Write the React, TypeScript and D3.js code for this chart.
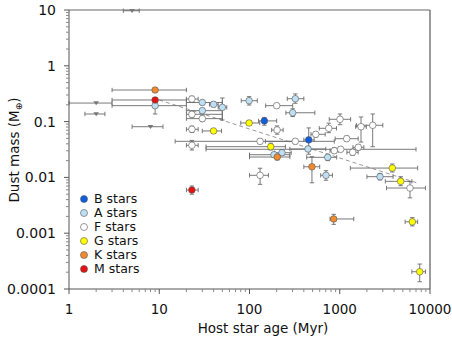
import * as d3 from "d3";

// [age (Myr), dust mass, ageLo, ageHi, massLo, massHi]
const bStars = [
  [146, 0.103, 126, 200, 0.086, 0.119],
  [453, 0.047, 400, 520, 0.026, 0.077],
];
const aStars = [
  [9, 0.193, 3, 20, 0.137, 0.224],
  [30, 0.22, 20, 50, 0.2, 0.24],
  [40, 0.204, 36, 45, 0.185, 0.225],
  [50, 0.18, 45, 56, 0.107, 0.265],
  [30, 0.157, 20, 50, 0.142, 0.173],
  [99, 0.237, 81, 122, 0.198, 0.28],
  [322, 0.257, 262, 400, 0.213, 0.313],
  [301, 0.144, 253, 530, 0.123, 0.17],
  [445, 0.0323, 280, 700, 0.029, 0.036],
  [229, 0.0277, 190, 290, 0.025, 0.031],
  [187, 0.0255, 100, 280, 0.023, 0.028],
  [736, 0.0229, 430, 925, 0.02, 0.026],
  [704, 0.0109, 615, 830, 0.0089, 0.0132],
  [2793, 0.0103, 2000, 3900, 0.009, 0.0118],
];
const fStars = [
  [23, 0.254, 20, 27, 0.225, 0.285],
  [23, 0.135, 20, 50, 0.12, 0.152],
  [30, 0.113, 20, 50, 0.1, 0.127],
  [23, 0.0728, 20, 27, 0.064, 0.083],
  [23, 0.0376, 20, 27, 0.031, 0.046],
  [200, 0.193, 151, 301, 0.175, 0.213],
  [202, 0.0707, 176, 236, 0.0595, 0.0836],
  [1006, 0.11, 765, 1320, 0.088, 0.137],
  [755, 0.0758, 593, 920, 0.0633, 0.0937],
  [1720, 0.081, 1500, 1970, 0.043, 0.121],
  [2318, 0.0859, 1530, 3000, 0.0355, 0.137],
  [542, 0.0592, 480, 690, 0.053, 0.066],
  [322, 0.0443, 150, 870, 0.04, 0.049],
  [131, 0.0443, 15, 330, 0.04, 0.049],
  [1194, 0.0494, 890, 1600, 0.044, 0.055],
  [870, 0.0301, 780, 960, 0.027, 0.034],
  [1024, 0.0319, 33, 7000, 0.029, 0.035],
  [1390, 0.0282, 1200, 1600, 0.025, 0.032],
  [1606, 0.0346, 1400, 1850, 0.031, 0.039],
  [131, 0.0109, 100, 162, 0.0075, 0.0146],
  [6000, 0.00645, 3300, 8900, 0.0043, 0.0084],
];
const gStars = [
  [40, 0.068, 30, 49, 0.062, 0.075],
  [99, 0.0944, 80, 130, 0.086, 0.104],
  [172, 0.0355, 33, 250, 0.031, 0.041],
  [3820, 0.0147, 1310, 7300, 0.0125, 0.0174],
  [4730, 0.0085, 3200, 6300, 0.0071, 0.0103],
  [6370, 0.0016, 5300, 7300, 0.00135, 0.0019],
  [7690, 0.000204, 6300, 8900, 0.000135, 0.00028],
];
const kStars = [
  [9, 0.368, 3, 20, 0.35, 0.385],
  [203, 0.0232, 100, 280, 0.0205, 0.026],
  [492, 0.0155, 400, 600, 0.008, 0.0235],
  [857, 0.0018, 780, 1430, 0.00144, 0.00218],
];
const mStars = [
  [9, 0.244, 3, 20, 0.225, 0.265],
  [23, 0.00594, 20, 27, 0.005, 0.007],
];
// [age, upper limit, ageLo, ageHi]
const upperLimits = [
  [5, 9.7, 4, 6],
  [2, 0.215, 1, 3],
  [2, 0.137, 1.5, 2.5],
  [8, 0.081, 5, 11],
];
const trendAges = [10, 7500];
const trendMasses = [0.244, 0.0078];

const xTicks = [1, 10, 100, 1000, 10000];
const yTicks = [0.0001, 0.001, 0.01, 0.1, 1, 10];
const xTickLabels = ["1", "10", "100", "1000", "10000"];
const yTickLabels = ["0.0001", "0.001", "0.01", "0.1", "1", "10"];

const legendLabels = ["B stars", "A stars", "F stars", "G stars", "K stars", "M stars"];
const groups = [bStars, aStars, fStars, gStars, kStars, mStars];
const colors = ["#0f5ee0", "#bfe0f4", "#ffffff", "#ffff00", "#f28a2e", "#e81010"];

const width = 452;
const height = 338;
const left = 69;
const right = 430;
const top = 10;
const bottom = 289;
const font = "'DejaVu Sans', Verdana, sans-serif";

const x = d3.scaleLog().domain([1, 10000]).range([left, right]);
const y = d3.scaleLog().domain([0.0001, 10]).range([bottom, top]);

const minorX = xTicks.slice(0, -1).flatMap((t) => d3.range(2, 10).map((k) => t * k));
const minorY = yTicks.slice(0, -1).flatMap((t) => d3.range(2, 10).map((k) => t * k));

const barColor = "#6a6a6a";
const cap = 2.2;

function ErrorBars({ d }: { d: number[] }) {
  const [ax, my, xl, xh, yl, yh] = d;
  const cx = x(ax);
  const cy = y(my);
  return (
    <g stroke={barColor} strokeWidth={0.9}>
      <line x1={x(xl)} x2={x(xh)} y1={cy} y2={cy} />
      <line x1={x(xl)} x2={x(xl)} y1={cy - cap} y2={cy + cap} />
      <line x1={x(xh)} x2={x(xh)} y1={cy - cap} y2={cy + cap} />
      {yl !== undefined && (
        <>
          <line x1={cx} x2={cx} y1={y(yl)} y2={y(yh)} />
          <line x1={cx - cap} x2={cx + cap} y1={y(yl)} y2={y(yl)} />
          <line x1={cx - cap} x2={cx + cap} y1={y(yh)} y2={y(yh)} />
        </>
      )}
    </g>
  );
}

export default function App() {
  const trend = d3
    .line<number>()
    .x((d) => x(d))
    .y((d, i) => y(trendMasses[i]));

  return (
    <svg
      width={width}
      height={height}
      style={{ position: "absolute", left: 0, top: 0, background: "#fff" }}
      fontFamily={font}
    >
      {/* frame */}
      <line x1={left} x2={right} y1={top} y2={top} stroke="#666" />
      <line x1={right} x2={right} y1={top} y2={bottom} stroke="#666" strokeWidth={1.3} />

      {/* trend line */}
      <path d={trend(trendAges) ?? ""} fill="none" stroke="#999" strokeDasharray="4,3" />

      {/* error bars */}
      {upperLimits.map((d, i) => (
        <ErrorBars key={"u" + i} d={d} />
      ))}
      {groups.map((g, gi) =>
        g.map((d, i) => <ErrorBars key={gi + "-" + i} d={d} />)
      )}

      {/* upper limits */}
      {upperLimits.map((d, i) => {
        const cx = x(d[0]);
        const cy = y(d[1]);
        return (
          <path
            key={"t" + i}
            d={`M${cx - 2.8},${cy - 1.8}L${cx + 2.8},${cy - 1.8}L${cx},${cy + 2.2}Z`}
            fill="#777"
          />
        );
      })}

      {/* points */}
      {groups.map((g, gi) =>
        g.map((d, i) => (
          <circle
            key={"p" + gi + "-" + i}
            cx={x(d[0])}
            cy={y(d[1])}
            r={3.3}
            fill={colors[gi]}
            stroke="#555"
            strokeWidth={0.6}
          />
        ))
      )}

      {/* y axis */}
      <line x1={left} x2={left} y1={top} y2={bottom} stroke="#555" />
      {minorY.map((t) => (
        <line key={"my" + t} x1={left - 3} x2={left} y1={y(t)} y2={y(t)} stroke="#888" />
      ))}
      {yTicks.map((t, i) => (
        <g key={"y" + t}>
          <line x1={left - 5} x2={left} y1={y(t)} y2={y(t)} stroke="#555" />
          <text x={left - 13} y={y(t)} dy="0.35em" textAnchor="end" fontSize={14} fill="#111">
            {yTickLabels[i]}
          </text>
        </g>
      ))}

      {/* x axis */}
      <line x1={left} x2={right} y1={bottom} y2={bottom} stroke="#555" />
      {minorX.map((t) => (
        <line key={"mx" + t} x1={x(t)} x2={x(t)} y1={bottom} y2={bottom + 3} stroke="#888" />
      ))}
      {xTicks.map((t, i) => (
        <g key={"x" + t}>
          <line x1={x(t)} x2={x(t)} y1={bottom} y2={bottom + 5} stroke="#555" />
          <text x={x(t)} y={bottom + 25} textAnchor="middle" fontSize={13.5} fill="#111">
            {xTickLabels[i]}
          </text>
        </g>
      ))}

      {/* axis titles */}
      <text x={263} y={333} textAnchor="middle" fontSize={13.5} fill="#111">
        Host star age (Myr)
      </text>
      <text
        transform={`translate(19,150) rotate(-90)`}
        textAnchor="middle"
        fontSize={13.5}
        fill="#111"
      >
        Dust mass (M
        <tspan fontSize={9} dy={3}>⊕</tspan>
        <tspan dy={-3}>)</tspan>
      </text>

      {/* legend */}
      {legendLabels.map((l, i) => (
        <g key={l} transform={`translate(84,${199 + i * 14})`}>
          <circle r={3.5} fill={colors[i]} stroke="#555" strokeWidth={0.6} />
          <text x={10} dy="0.35em" fontSize={12.5} fill="#111">
            {l}
          </text>
        </g>
      ))}
    </svg>
  );
}
